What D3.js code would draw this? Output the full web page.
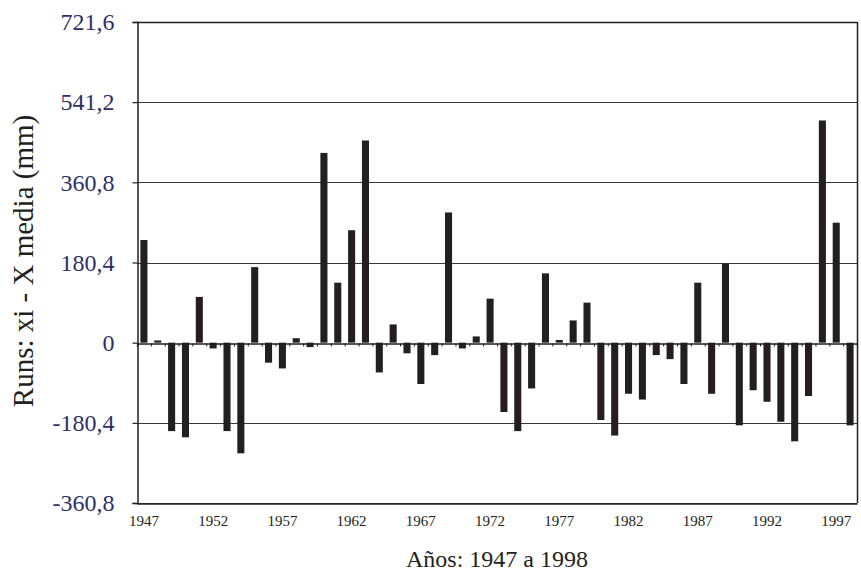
<!DOCTYPE html>
<html>
<head>
<meta charset="utf-8">
<script src="https://cdn.jsdelivr.net/npm/d3@7"></script>
<style>
  body { margin: 0; background: #fff; }
  svg { display: block; }
</style>
</head>
<body>
<div class="container"></div>
<script>
// years 1947..1998 and their deviation from the mean (mm)
var years = d3.range(1947, 1999);
var runs = [231, 5, -199, -213, 103, -13, -199, -249, 170, -45,
            -58, 10, -10, 427, 135, 253, 455, -67, 41, -24,
            -93, -28, 293, -13, 14, 99, -156, -199, -103, 156,
            6, 50, 90, -174, -209, -115, -128, -28, -37, -93,
            135, -115, 178, -186, -107, -133, -178, -222, -120, 500,
            270, -186];
var yTicks = [-360.8, -180.4, 0, 180.4, 360.8, 541.2, 721.6];
var yTickLabels = ['-360,8', '-180,4', '0', '180,4', '360,8', '541,2', '721,6'];
var xTickYears = [1947, 1952, 1957, 1962, 1967, 1972, 1977, 1982, 1987, 1992, 1997];

const WIDTH = 861;
const HEIGHT = 572;
const LEFT = 137, RIGHT = 857, TOP = 22, BOTTOM = 503;
const SERIF = '"Liberation Serif", "Times New Roman", serif';

var svg = d3.select('.container').append('svg')
    .attr('width', WIDTH)
    .attr('height', HEIGHT);

var xScale = d3.scaleBand()
    .domain(years)
    .range([LEFT, RIGHT])
    .paddingInner(0.49)
    .paddingOuter(0.245);

var yScale = d3.scaleLinear()
    .domain([yTicks[0], yTicks[yTicks.length - 1]])
    .range([BOTTOM, TOP]);

// category boundaries for the little ticks on the zero line
var slotScale = d3.scaleLinear()
    .domain([0, years.length])
    .range([LEFT, RIGHT]);

// gridlines
svg.append('g')
  .selectAll('line')
  .data(yTicks.filter(function (d) { return d !== 0; }))
  .enter().append('line')
    .attr('x1', LEFT)
    .attr('x2', RIGHT)
    .attr('y1', function (d) { return Math.round(yScale(d)) + 0.5; })
    .attr('y2', function (d) { return Math.round(yScale(d)) + 0.5; })
    .attr('stroke', '#3a3a3a')
    .attr('stroke-width', 1.2);

// right border
svg.append('line')
    .attr('x1', RIGHT + 0.5).attr('x2', RIGHT + 0.5)
    .attr('y1', TOP).attr('y2', BOTTOM)
    .attr('stroke', '#231f20')
    .attr('stroke-width', 1.5);

// bars
svg.append('g')
  .selectAll('rect')
  .data(runs)
  .enter().append('rect')
    .attr('x', function (d, i) { return xScale(years[i]); })
    .attr('width', xScale.bandwidth())
    .attr('y', function (d) { return yScale(Math.max(0, d)); })
    .attr('height', function (d) { return Math.abs(yScale(d) - yScale(0)); })
    .attr('fill', '#231f20');

// zero line with category ticks
var zeroAxis = d3.axisBottom(slotScale)
    .tickValues(d3.range(0, years.length + 1))
    .tickSize(3)
    .tickFormat('');

svg.append('g')
    .attr('transform', 'translate(0,' + (Math.round(yScale(0)) + 0.5) + ')')
    .call(zeroAxis)
    .call(function (g) {
      g.select('.domain').attr('stroke', '#231f20').attr('stroke-width', 1.3);
      g.selectAll('.tick line').attr('stroke', '#231f20');
    });

// bottom axis with year labels
var xAxis = d3.axisBottom(xScale)
    .tickValues(xTickYears)
    .tickSize(0)
    .tickPadding(12);

svg.append('g')
    .attr('transform', 'translate(0,' + (BOTTOM + 0.5) + ')')
    .call(xAxis)
    .call(function (g) {
      g.select('.domain').attr('stroke', '#231f20').attr('stroke-width', 1.5);
      g.selectAll('text')
        .attr('fill', '#231f20')
        .style('font-family', SERIF)
        .style('font-size', '15px');
    });

// top border
svg.append('line')
    .attr('x1', LEFT).attr('x2', RIGHT)
    .attr('y1', TOP + 0.5).attr('y2', TOP + 0.5)
    .attr('stroke', '#231f20')
    .attr('stroke-width', 1.5);

// left axis
var yAxis = d3.axisLeft(yScale)
    .tickValues(yTicks)
    .tickSize(5)
    .tickPadding(18)
    .tickFormat(function (d, i) { return yTickLabels[i]; });

svg.append('g')
    .attr('transform', 'translate(' + (LEFT + 0.5) + ',0)')
    .call(yAxis)
    .call(function (g) {
      g.select('.domain').attr('stroke', '#231f20').attr('stroke-width', 1.5);
      g.selectAll('.tick line').attr('stroke', '#231f20').attr('stroke-width', 1.2);
      g.selectAll('text')
        .attr('fill', '#2e2f66')
        .style('font-family', SERIF)
        .style('font-size', '24px');
    });

// titles
svg.append('text')
    .attr('x', (LEFT + RIGHT) / 2)
    .attr('y', 567)
    .attr('text-anchor', 'middle')
    .attr('fill', '#231f20')
    .style('font-family', SERIF)
    .style('font-size', '24px')
    .text('Años: 1947 a 1998');

svg.append('text')
    .attr('transform', 'translate(33,261) rotate(-90)')
    .attr('text-anchor', 'middle')
    .attr('fill', '#231f20')
    .style('font-family', SERIF)
    .style('font-size', '29px')
    .text('Runs: xi - X media (mm)');
</script>
</body>
</html>
